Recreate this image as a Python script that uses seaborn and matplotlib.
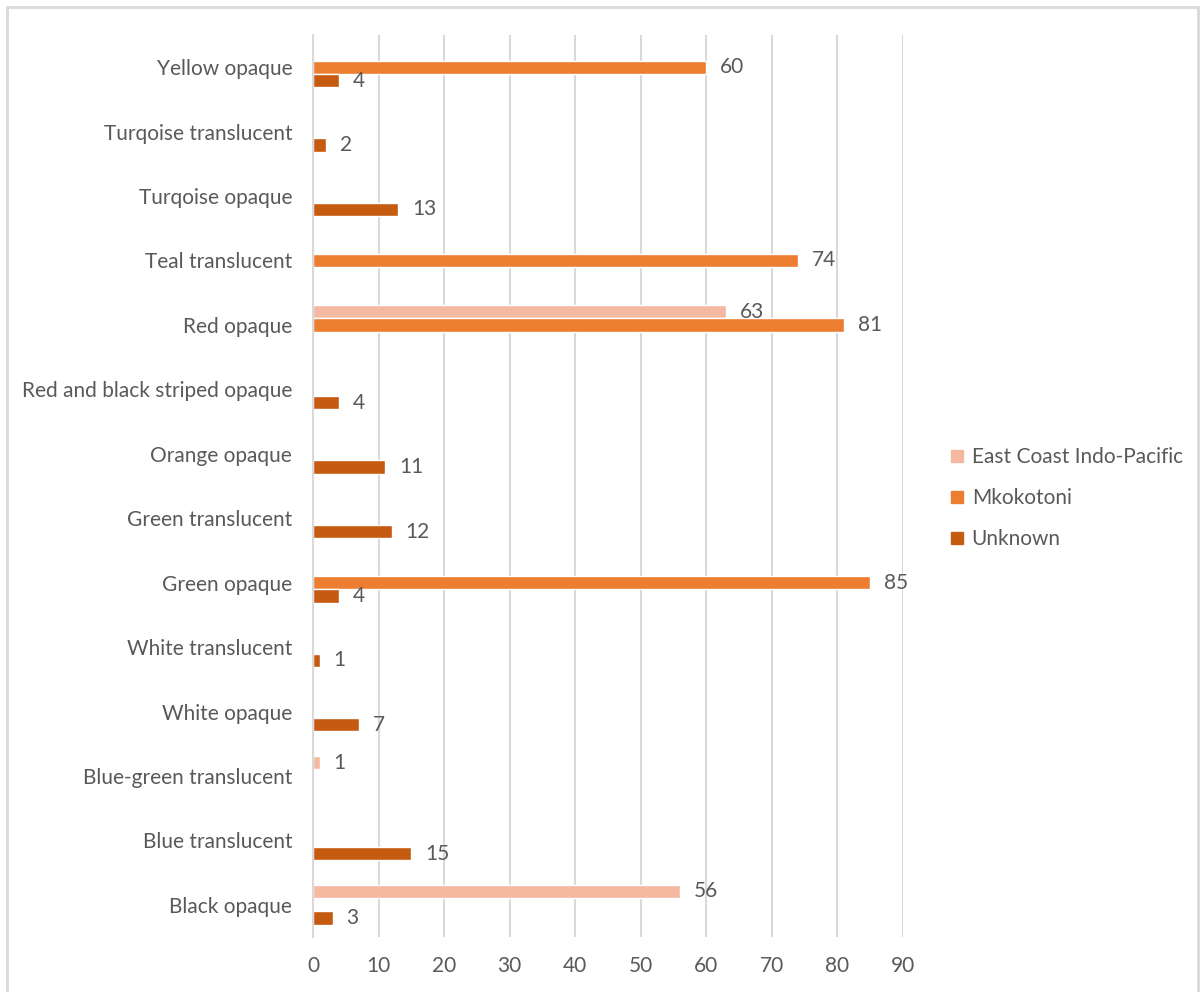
import numpy as np
import pandas as pd
import matplotlib
matplotlib.use("Agg")
import matplotlib.pyplot as plt
from matplotlib.patches import Rectangle
from matplotlib.lines import Line2D
import seaborn as sns

categories = ["Yellow opaque", "Turqoise translucent", "Turqoise opaque", "Teal translucent",
              "Red opaque", "Red and black striped opaque", "Orange opaque", "Green translucent",
              "Green opaque", "White translucent", "White opaque", "Blue-green translucent",
              "Blue translucent", "Black opaque"]
series = ["East Coast Indo-Pacific", "Mkokotoni", "Unknown"]
east_coast = [np.nan, np.nan, np.nan, np.nan, 63, np.nan, np.nan, np.nan, np.nan, np.nan, np.nan, 1, np.nan, 56]
mkokotoni = [60, np.nan, np.nan, 74, 81, np.nan, np.nan, np.nan, 85, np.nan, np.nan, np.nan, np.nan, np.nan]
unknown = [4, 2, 13, np.nan, np.nan, 4, 11, 12, 4, 1, 7, np.nan, 15, 3]
x_ticks = [0, 10, 20, 30, 40, 50, 60, 70, 80, 90]
colors = ["#F4B9A0", "#ED7D31", "#C55A11"]

rows = []
for s, vals in zip(series, [east_coast, mkokotoni, unknown]):
    for c, v in zip(categories, vals):
        if not np.isnan(v):
            rows.append({"category": c, "series": s, "value": v})
df = pd.DataFrame(rows)

sns.set_style("white")
plt.rcParams["font.family"] = ["Lato", "DejaVu Sans"]
text_color = "#595959"
fs = 15

fig = plt.figure(figsize=(12, 9.92), dpi=100)
ax = fig.add_axes([313 / 1200, 1 - 937 / 992, (903 - 313) / 1200, (937 - 35) / 992])

sns.barplot(data=df, y="category", x="value", hue="series", order=categories,
            hue_order=series, palette=colors, orient="h", width=0.62,
            errorbar=None, saturation=1, ax=ax, legend=False)

for cont in ax.containers:
    ax.bar_label(cont, fmt="%d", padding=10, fontsize=fs, color=text_color)

ax.set_xlim(0, 90)
ax.set_ylim(13.5, -0.5)
ax.set_xticks(x_ticks)
ax.set_xticklabels([str(t) for t in x_ticks])
ax.xaxis.grid(True, color="#D9D9D9", linewidth=1.5)
ax.set_axisbelow(True)
for sp in ["top", "right", "bottom"]:
    ax.spines[sp].set_visible(False)
ax.spines["left"].set_color("#D9D9D9")
ax.spines["left"].set_linewidth(1.5)
ax.tick_params(axis="both", length=0, labelsize=fs, labelcolor=text_color)
ax.tick_params(axis="x", pad=14)
ax.tick_params(axis="y", pad=15)
ax.set_xlabel("")
ax.set_ylabel("")

handles = [Line2D([0], [0], marker="s", linestyle="", markersize=9,
                  markerfacecolor=c, markeredgecolor=c) for c in colors]
fig.legend(handles, series, loc="center left", bbox_to_anchor=(930 / 1200, 0.498),
           frameon=False, fontsize=fs, labelcolor=text_color, handlelength=0.8,
           handletextpad=0.3, labelspacing=1.0)

fig.patches.append(Rectangle((7 / 1200, -0.01), (1198 - 7) / 1200, 1 - 7 / 992 + 0.01,
                             transform=fig.transFigure, fill=False,
                             edgecolor="#D9D9D9", linewidth=2))

fig.savefig("out.png", dpi=100)
